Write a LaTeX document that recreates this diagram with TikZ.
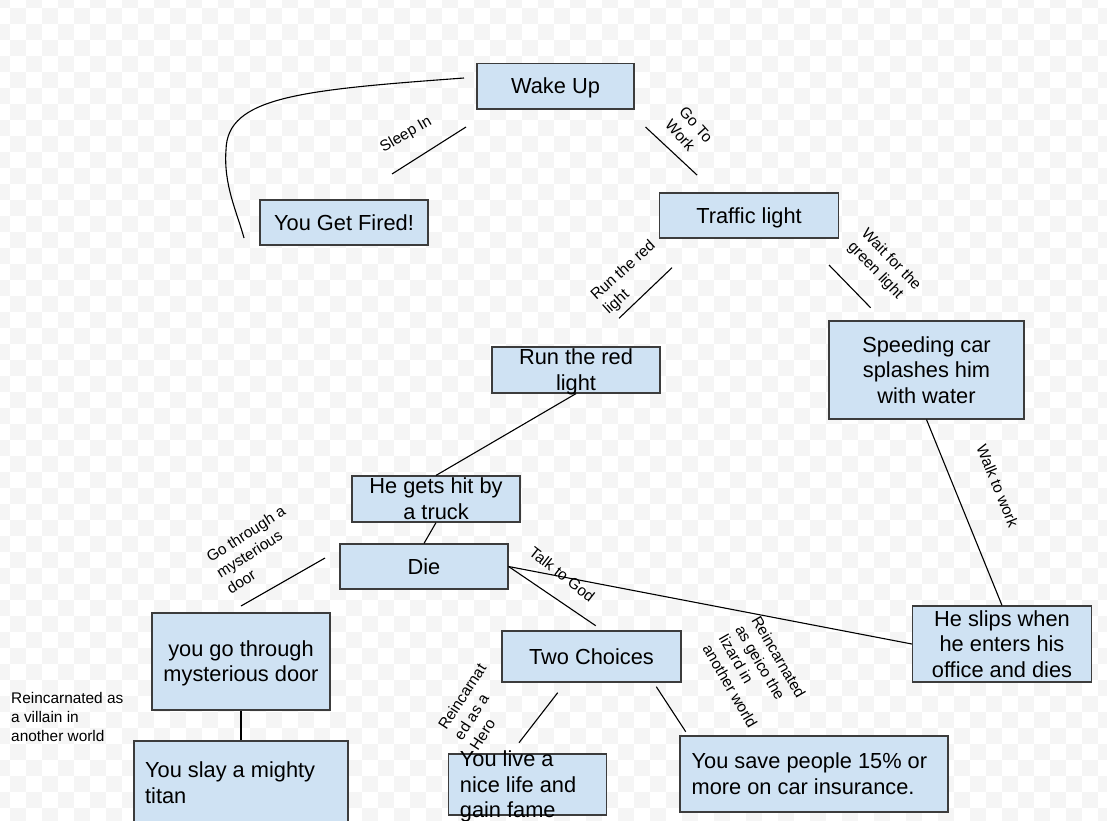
\documentclass[tikz,border=0pt]{standalone}
\usepackage{fontspec}
\setmainfont{Liberation Sans}
\definecolor{boxfill}{RGB}{207,226,243}
\definecolor{boxline}{RGB}{60,60,60}
\definecolor{chk}{RGB}{245,245,245}
\newcommand\boxstrut{\rule[-5pt]{0pt}{25pt}}
\newcommand\lblstrut{\rule[-4pt]{0pt}{18.5pt}}
\begin{document}
\begin{tikzpicture}[x=1pt,y=-1pt,
  box/.style={draw=boxline,fill=boxfill,line width=1.2pt,inner sep=0pt},
  btext/.style={font=\fontsize{21.8}{25.5}\selectfont,inner sep=0pt,align=center},
  ltext/.style={font=\fontsize{15.4}{18.9}\selectfont,inner sep=0pt,align=left},
  conn/.style={line width=1.1pt,draw=black}]
\useasboundingbox (0,0) rectangle (1107,820);
% checkerboard background
\begin{scope}
\clip (0,0) rectangle (1107,820);
\fill[white] (0,0) rectangle (1107,820);
\foreach \r in {0,...,52}{\foreach \c in {0,...,70}{\ifodd\numexpr\r+\c\relax\else\fill[chk] ({16*\c-6},{16*\r-8}) rectangle ++(16,16);\fi}}
\end{scope}

% boxes
\node[box,minimum width=157pt,minimum height=45.5pt] (wake) at (555.5,86.3) {};
\node[btext] (twake) at (wake.center) {\boxstrut Wake Up};
\node[box,minimum width=168pt,minimum height=45pt] (fired) at (344,222.5) {};
\node[btext] (tfired) at (fired.center) {\boxstrut You Get Fired!};
\node[box,minimum width=179pt,minimum height=45pt] (traffic) at (749,215.5) {};
\node[btext] (ttraffic) at (traffic.center) {\boxstrut Traffic light};
\node[box,minimum width=168pt,minimum height=46pt] (runred) at (576,370) {};
\node[btext] (trunred) at (runred.center) {\boxstrut Run the red\\\boxstrut light};
\node[box,minimum width=195pt,minimum height=98pt] (speed) at (926.5,370) {};
\node[btext] (tspeed) at (speed.center) {\boxstrut Speeding car\\\boxstrut splashes him\\\boxstrut with water};
\node[box,minimum width=168pt,minimum height=46pt] (hit) at (436,499) {};
\node[btext] (thit) at (hit.center) {\boxstrut He gets hit by\\\boxstrut a truck};
\node[box,minimum width=168pt,minimum height=45pt] (die) at (424,566.5) {};
\node[btext] (tdie) at (die.center) {\boxstrut Die};
\node[box,minimum width=178pt,minimum height=97pt] (door) at (241,661.5) {};
\node[btext] (tdoor) at (door.center) {\boxstrut you go through\\\boxstrut mysterious door};
\node[box,minimum width=179pt,minimum height=51pt] (two) at (591.5,656.5) {};
\node[btext] (ttwo) at (two.center) {\boxstrut Two Choices};
\node[box,minimum width=179pt,minimum height=76pt] (slips) at (1002,644) {};
\node[btext] (tslips) at (slips.center) {\boxstrut He slips when\\\boxstrut he enters his\\\boxstrut office and dies};
\node[box,minimum width=214pt,minimum height=84pt] (slay) at (241,783) {};
\node[btext,align=left,anchor=west] (tslay) at ([xshift=11.5pt]slay.west) {\boxstrut You slay a mighty\\\boxstrut titan};
\node[box,minimum width=158pt,minimum height=61pt] (live) at (527.8,784.5) {};
\node[btext,align=left,anchor=west] (tlive) at ([xshift=11.5pt]live.west) {\boxstrut You live a\\\boxstrut nice life and\\\boxstrut gain fame};
\node[box,minimum width=268pt,minimum height=76pt] (save) at (814,774) {};
\node[btext,align=left,anchor=west] (tsave) at ([xshift=12pt]save.west) {\boxstrut You save people 15\% or\\\boxstrut more on car insurance.};

% free text
\node[ltext,anchor=west] (villain) at (11,717.5) {\lblstrut Reincarnated as\\\lblstrut a villain in\\\lblstrut another world};

% labels
\node[ltext,rotate=30] (lsleep) at (405.5,133.5) {\lblstrut Sleep In};
\node[ltext,rotate=-48] (lwork) at (689,131) {\lblstrut Go To\\\lblstrut Work};
\node[ltext,rotate=42] (lrun) at (629,277) {\lblstrut Run the red\\\lblstrut light};
\node[ltext,rotate=-46] (lwait) at (885,265.5) {\lblstrut Wait for the\\\lblstrut green light};
\node[ltext,rotate=-68] (lwalk) at (997.5,486) {\lblstrut Walk to work};
\node[ltext,rotate=-38] (ltalk) at (562,574.5) {\lblstrut Talk to God};
\node[ltext,rotate=32.5] (lgo) at (256,550) {\lblstrut Go through a\\\lblstrut mysterious\\\lblstrut door};
\node[ltext,rotate=57] (lhero) at (478,707) {\lblstrut Reincarnat\\\lblstrut ed as a\\\lblstrut Hero};
\node[ltext,rotate=-60] (lgeico) at (754.5,672) {\lblstrut Reincarnated\\\lblstrut as geico the\\\lblstrut lizard in\\\lblstrut another world};

% free line ends
\coordinate (cA) at (464,78);
\coordinate (cB) at (244,238);
\coordinate (sleepA) at (466,127);
\coordinate (sleepB) at (392,174);
\coordinate (workA) at (645.5,127);
\coordinate (workB) at (697,175);
\coordinate (runA) at (672,267.7);
\coordinate (runB) at (619,318.3);
\coordinate (waitA) at (829,265);
\coordinate (waitB) at (870.6,307.7);
\coordinate (talkB) at (595.7,625.7);
\coordinate (goA) at (325,558);
\coordinate (goB) at (241,606);
\coordinate (heroA) at (557.7,692.7);
\coordinate (heroB) at (519,742.7);
\coordinate (geicoA) at (656.3,686.7);
\coordinate (geicoB) at (685.7,731.7);

% connectors
\draw[conn] (cA) .. controls (300,90) and (227,97) .. (226,150) .. controls (223.4,185) and (237,212) .. (cB);
\draw[conn] (sleepA) -- (sleepB);
\draw[conn] (workA) -- (workB);
\draw[conn] (runA) -- (runB);
\draw[conn] (waitA) -- (waitB);
\draw[conn] (runred.south) -- (hit.north);
\draw[conn] (hit.south) -- (die.north);
\draw[conn] (speed.south) -- (slips.north);
\draw[conn] (die.east) -- (slips.west);
\draw[conn] (die.east) -- (talkB);
\draw[conn] (goA) -- (goB);
\draw[conn] (door.south) -- (slay.north);
\draw[conn] (heroA) -- (heroB);
\draw[conn] (geicoA) -- (geicoB);
\end{tikzpicture}
\end{document}
